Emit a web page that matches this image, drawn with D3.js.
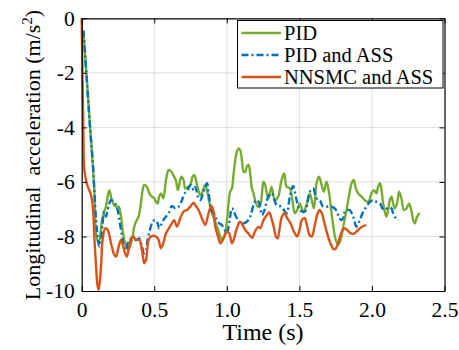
<!DOCTYPE html>
<html><head><meta charset="utf-8">
<script src="https://cdn.jsdelivr.net/npm/d3@7"></script>
<style>body{margin:0;background:#fff}svg{display:block}text{font-family:"Liberation Serif","Times New Roman",serif;fill:#000}</style>
</head><body><svg id="c" width="459" height="350"></svg>
<script>
const xTicks=[0,0.5,1.0,1.5,2.0,2.5];
const xTickLabels=["0","0.5","1.0","1.5","2.0","2.5"];
const yTicks=[0,-2,-4,-6,-8,-10];
const yTickLabels=["0","-2","-4","-6","-8","-10"];
const seriesNames=["PID","PID and ASS","NNSMC and ASS"];
const pidT=[0.012,0.064,0.087,0.099,0.117,0.144,0.167,0.190,0.208,0.224,0.236,0.255,0.271,0.282,0.300,0.317,0.333,0.351,0.362,0.374,0.392,0.408,0.420,0.431,0.448,0.466,0.484,0.500,0.512,0.523,0.534,0.546,0.562,0.581,0.599,0.615,0.631,0.649,0.663,0.686,0.702,0.713,0.732,0.748,0.764,0.778,0.787,0.801,0.817,0.828,0.840,0.851,0.863,0.874,0.886,0.902,0.920,0.939,0.955,0.966,0.978,0.989,1.001,1.012,1.023,1.035,1.047,1.058,1.069,1.081,1.092,1.104,1.116,1.127,1.138,1.150,1.161,1.173,1.184,1.195,1.214,1.230,1.242,1.253,1.264,1.276,1.288,1.308,1.331,1.354,1.377,1.395,1.412,1.435,1.453,1.469,1.485,1.503,1.526,1.549,1.572,1.600,1.618,1.636,1.653,1.669,1.687,1.705,1.722,1.737,1.751,1.767,1.784,1.802,1.825,1.843,1.860,1.875,1.889,1.905,1.928,1.951,1.974,1.997,2.013,2.031,2.042,2.055,2.066,2.077,2.089,2.100,2.112,2.123,2.135,2.146,2.158,2.173,2.187,2.203,2.220,2.238,2.256,2.273,2.284,2.296,2.307,2.318,2.330];
const pidV=[-0.45,-4.46,-6.3,-7.88,-8.25,-7.3,-6.9,-6.3,-6.67,-6.85,-6.91,-6.91,-7.27,-7.76,-8.25,-8.5,-8.37,-8.0,-7.64,-7.46,-7.27,-6.79,-6.3,-6.11,-6.17,-6.42,-6.54,-6.6,-6.73,-6.79,-6.54,-6.42,-6.6,-5.93,-5.56,-5.6,-5.75,-5.95,-6.3,-5.81,-5.93,-6.24,-6.18,-6.11,-5.81,-5.75,-5.93,-6.24,-6.48,-6.42,-6.24,-6.11,-6.3,-6.6,-6.91,-7.21,-7.46,-7.76,-8.0,-8.13,-8.07,-7.88,-7.4,-6.79,-6.36,-6.24,-5.69,-5.2,-4.89,-4.77,-4.83,-5.2,-5.63,-5.63,-5.44,-5.38,-5.69,-6.24,-6.42,-6.67,-6.91,-6.85,-6.42,-5.99,-6.11,-6.42,-6.6,-6.18,-6.67,-6.54,-5.93,-5.69,-6.18,-6.24,-6.73,-7.15,-7.03,-6.79,-7.09,-6.85,-6.42,-6.97,-6.05,-5.81,-6.11,-6.36,-5.99,-6.42,-7.15,-7.76,-8.13,-8.31,-8.13,-7.64,-7.03,-6.48,-6.05,-5.93,-6.24,-6.42,-6.54,-6.67,-6.73,-6.42,-6.3,-6.42,-6.18,-6.05,-6.3,-6.79,-7.09,-7.27,-7.03,-6.67,-6.54,-6.79,-6.97,-6.79,-6.36,-6.6,-7.03,-6.97,-6.79,-7.09,-7.4,-7.52,-7.33,-7.21,-7.15];
const assT=[0.012,0.064,0.076,0.087,0.099,0.110,0.121,0.133,0.144,0.155,0.167,0.179,0.190,0.202,0.214,0.231,0.248,0.259,0.271,0.282,0.293,0.305,0.317,0.328,0.351,0.374,0.397,0.415,0.431,0.443,0.454,0.470,0.489,0.507,0.523,0.534,0.546,0.562,0.581,0.599,0.622,0.644,0.668,0.691,0.709,0.725,0.741,0.755,0.771,0.782,0.801,0.817,0.833,0.851,0.863,0.874,0.886,0.897,0.916,0.932,0.948,0.966,0.985,1.001,1.012,1.023,1.035,1.047,1.058,1.076,1.092,1.116,1.138,1.161,1.184,1.200,1.219,1.230,1.242,1.260,1.276,1.292,1.310,1.343,1.377,1.412,1.434,1.457,1.478,1.503,1.537,1.572,1.595,1.618,1.641,1.664,1.710,1.744,1.767,1.788,1.807,1.813,1.846,1.870,1.893,1.916,1.939,1.963,1.986,2.009,2.032,2.055,2.073,2.089,2.112,2.135,2.146,2.165,2.181];
const assV=[-0.45,-4.46,-5.2,-6.3,-7.4,-8.0,-8.37,-8.13,-7.52,-7.09,-7.27,-7.03,-6.79,-6.67,-6.69,-6.79,-7.03,-7.4,-7.76,-8.13,-8.43,-8.5,-8.25,-8.13,-8.07,-8.13,-8.07,-8.37,-8.62,-8.5,-8.13,-7.76,-7.46,-7.4,-7.52,-7.7,-7.58,-7.4,-7.27,-7.15,-6.88,-6.97,-6.91,-6.67,-6.42,-6.36,-6.18,-6.11,-6.3,-6.18,-6.54,-6.67,-6.48,-6.18,-6.05,-6.36,-6.85,-7.09,-7.21,-7.4,-7.52,-7.58,-7.76,-7.88,-7.64,-7.27,-6.97,-7.03,-7.21,-7.4,-7.52,-7.52,-7.46,-7.27,-6.85,-6.67,-6.73,-6.97,-7.21,-7.03,-6.67,-6.48,-6.42,-6.85,-6.91,-7.15,-6.54,-6.15,-6.6,-7.03,-7.09,-6.36,-6.24,-6.6,-6.67,-6.91,-6.9,-6.97,-7.21,-7.4,-7.27,-7.09,-7.03,-7.27,-7.64,-7.4,-7.1,-6.9,-6.73,-6.67,-6.73,-6.79,-6.97,-7.03,-6.94,-6.97,-7.15,-7.33,-7.4];
const nnT=[0,0.011,0.018,0.030,0.041,0.052,0.064,0.076,0.087,0.099,0.110,0.117,0.133,0.144,0.162,0.179,0.202,0.225,0.236,0.255,0.271,0.293,0.310,0.328,0.340,0.355,0.374,0.397,0.415,0.431,0.443,0.461,0.477,0.512,0.530,0.546,0.562,0.581,0.615,0.637,0.656,0.679,0.702,0.725,0.748,0.771,0.782,0.805,0.828,0.851,0.874,0.893,0.909,0.920,0.939,0.955,0.966,0.982,1.001,1.016,1.035,1.047,1.069,1.092,1.109,1.127,1.150,1.174,1.195,1.218,1.230,1.253,1.276,1.293,1.307,1.323,1.338,1.350,1.364,1.380,1.398,1.416,1.439,1.462,1.485,1.501,1.517,1.536,1.554,1.570,1.586,1.604,1.622,1.639,1.655,1.673,1.691,1.714,1.737,1.753,1.770,1.788,1.807,1.829,1.852,1.875,1.898,1.926,1.949,1.960];
const nnV=[0,-4.0,-5.56,-5.93,-6.17,-6.3,-6.48,-6.9,-8.0,-9.1,-9.84,-9.96,-9.1,-8.13,-7.7,-7.76,-8.25,-8.68,-8.74,-8.37,-8.13,-8.5,-8.74,-8.37,-8.07,-8.0,-8.13,-8.13,-8.5,-8.98,-8.86,-8.13,-8.0,-8.0,-8.13,-8.43,-8.25,-7.88,-7.58,-7.4,-7.64,-7.33,-7.09,-7.03,-6.91,-6.76,-6.85,-7.03,-7.33,-7.58,-7.15,-6.88,-7.09,-7.64,-8.0,-8.25,-8.19,-8.0,-7.82,-7.88,-8.25,-8.13,-7.7,-7.46,-7.58,-7.76,-7.9,-8.05,-7.8,-7.65,-7.7,-7.4,-7.21,-7.12,-7.33,-7.64,-8.0,-8.07,-7.7,-7.27,-7.15,-7.33,-7.52,-7.82,-8.0,-7.76,-7.4,-7.33,-7.64,-7.95,-8.0,-7.64,-7.21,-7.03,-7.15,-7.52,-7.88,-8.25,-8.47,-8.43,-8.19,-7.88,-7.7,-7.76,-7.88,-7.9,-7.8,-7.66,-7.6,-7.6];
const colors=["#77AC30","#0072BD","#D95319"];
const dashes=[null,"7,3,2,3",null];

const svg=d3.select("#c");
svg.append("rect").attr("width",459).attr("height",350).attr("fill","#fff");
const x=d3.scaleLinear().domain([0,2.5]).range([81.7,444.5]);
const y=d3.scaleLinear().domain([-10,0]).range([291,18.3]);
const L=x(0),R=x(2.5),T=y(0),B=y(-10);
svg.append("g").selectAll("line").data(xTicks.slice(1,-1)).join("line")
 .attr("x1",d=>x(d)).attr("x2",d=>x(d)).attr("y1",T).attr("y2",B).attr("stroke","#dedede").attr("stroke-width",1);
svg.append("g").selectAll("line").data(yTicks.slice(1,-1)).join("line")
 .attr("y1",d=>y(d)).attr("y2",d=>y(d)).attr("x1",L).attr("x2",R).attr("stroke","#dedede").attr("stroke-width",1);
const line=d3.line().x(d=>x(d[0])).y(d=>y(d[1])).curve(d3.curveCatmullRom.alpha(0.5));
const sets=[[pidT,pidV],[assT,assV],[nnT,nnV]];
sets.forEach((s,i)=>{
 const pts=s[0].map((t,j)=>[t,s[1][j]]);
 const p=svg.append("path").datum(pts).attr("d",line).attr("fill","none").attr("stroke",colors[i]).attr("stroke-width",2.4).attr("stroke-linejoin","round");
 if(dashes[i]) p.attr("stroke-dasharray",dashes[i]);
});
const fs=21.5;
const ax=svg.append("g").attr("transform",`translate(0,${B})`).call(d3.axisBottom(x).tickValues(xTicks).tickFormat((d,i)=>xTickLabels[i]).tickSizeInner(-5).tickSizeOuter(0).tickPadding(11));
const ay=svg.append("g").attr("transform",`translate(${L},0)`).call(d3.axisLeft(y).tickValues(yTicks).tickFormat((d,i)=>yTickLabels[i]).tickSizeInner(-5).tickSizeOuter(0).tickPadding(7));
const at=svg.append("g").attr("transform",`translate(0,${T})`).call(d3.axisTop(x).tickValues(xTicks).tickFormat("").tickSizeInner(-5).tickSizeOuter(0));
const ar=svg.append("g").attr("transform",`translate(${R},0)`).call(d3.axisRight(y).tickValues(yTicks).tickFormat("").tickSizeInner(-5).tickSizeOuter(0));
[ax,ay,at,ar].forEach(g=>{g.select(".domain").attr("stroke","#000").attr("stroke-width",1.2);g.selectAll(".tick line").attr("stroke","#000");g.selectAll("text").attr("font-family","Liberation Serif").attr("font-size",fs).attr("fill","#000");});
svg.append("text").attr("x",263).attr("y",340).attr("text-anchor","middle").attr("font-size",24).text("Time (s)");
const yl=svg.append("text").attr("transform","translate(40,155) rotate(-90)").attr("text-anchor","middle").attr("font-size",22).attr("xml:space","preserve");
yl.append("tspan").text("Longitudinal  acceleration (m/s");
yl.append("tspan").attr("dy",-8).attr("font-size",15).text("2");
yl.append("tspan").attr("dy",8).text(")");
const lg=svg.append("g");
lg.append("rect").attr("x",237.5).attr("y",20.5).attr("width",205.5).attr("height",67.5).attr("fill","#fff").attr("stroke","#000").attr("stroke-width",1);
seriesNames.forEach((n,i)=>{
 const yy=33+i*22;
 const l=lg.append("line").attr("x1",241.5).attr("x2",281).attr("y1",yy).attr("y2",yy).attr("stroke",colors[i]).attr("stroke-width",2.4);
 if(dashes[i]) l.attr("stroke-dasharray",dashes[i]);
 lg.append("text").attr("x",284).attr("y",yy+7).attr("font-size",20.5).text(n);
});
</script></body></html>
